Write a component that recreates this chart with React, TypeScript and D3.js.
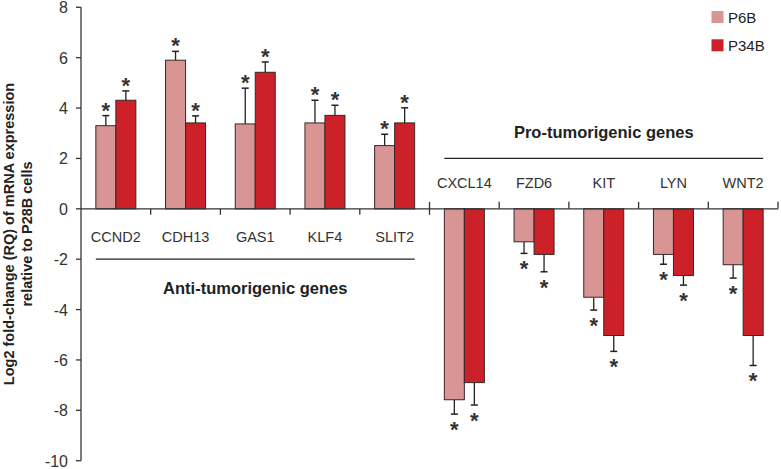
import React from "react";
import * as d3 from "d3";

// gene names, in the order drawn
const genes = ["CCND2", "CDH13", "GAS1", "KLF4", "SLIT2", "CXCL14", "FZD6", "KIT", "LYN", "WNT2"];
const series = ["P6B", "P34B"];
const colors = ["#d99594", "#cc2128"];

// log2 fold-change (RQ) and its one-sided error
const p6b = [3.3, 5.9, 3.37, 3.41, 2.51, -7.58, -1.31, -3.51, -1.81, -2.22];
const p6bErr = [0.4, 0.35, 1.42, 0.9, 0.45, 0.57, 0.46, 0.51, 0.39, 0.53];
const p34b = [4.31, 3.41, 5.42, 3.71, 3.41, -6.9, -1.81, -5.03, -2.65, -5.03];
const p34bErr = [0.37, 0.28, 0.41, 0.4, 0.6, 0.89, 0.69, 0.63, 0.38, 1.19];

const yTicks = [8, 6, 4, 2, 0, -2, -4, -6, -8, -10];

const groups = [
  { name: "Anti-tumorigenic genes", first: "CCND2", last: "SLIT2", lineAt: -2, below: true },
  { name: "Pro-tumorigenic genes", first: "CXCL14", last: "WNT2", lineAt: 2, below: false },
];

const W = 781;
const H = 469;
const FONT = "'Liberation Sans', Arial, sans-serif";

export default function App() {
  const y = d3.scaleLinear().domain([-10, 8]).range([460.7, 7.3]);
  const x = d3.scaleBand().domain(genes).range([81, 778]).padding(0);
  const bw = x.bandwidth();
  const barW = 20;
  const pOuter = (bw / barW - series.length) / 2;
  const xs = d3.scaleBand().domain(series).range([0, bw]).paddingInner(0).paddingOuter(pOuter);

  const values = [p6b, p34b];
  const errs = [p6bErr, p34bErr];
  const y0 = y(0);

  return (
    <svg width={W} height={H} style={{ position: "absolute", left: 0, top: 0, fontFamily: FONT }}>
      <rect width={W} height={H} fill="#fff" />

      {/* y axis */}
      <line x1={81} x2={81} y1={y(8)} y2={y(-10)} stroke="#333" strokeWidth={1.3} />
      {yTicks.map((t) => (
        <g key={t}>
          <line x1={76} x2={81} y1={y(t)} y2={y(t)} stroke="#333" strokeWidth={1.3} />
          <text x={68} y={y(t) + 6} textAnchor="end" fontSize={16} fill="#333">
            {t}
          </text>
        </g>
      ))}
      <text transform={`translate(14,${234}) rotate(-90)`} textAnchor="middle" fontSize={14.5} fontWeight="bold" fill="#222">
        Log2 fold-change (RQ) of mRNA expression
      </text>
      <text transform={`translate(31.5,${234}) rotate(-90)`} textAnchor="middle" fontSize={14.5} fontWeight="bold" fill="#222">
        relative to P28B cells
      </text>

      {/* bars */}
      {genes.map((g, i) =>
        series.map((s, k) => {
          const v = values[k][i];
          const e = errs[k][i];
          const bx = (x(g) as number) + (xs(s) as number);
          const cx = bx + xs.bandwidth() / 2;
          const top = Math.min(y(v), y0);
          const hgt = Math.abs(y(v) - y0);
          const capY = y(v >= 0 ? v + e : v - e);
          const starY = v >= 0 ? capY + 2 : capY + 23;
          return (
            <g key={g + s}>
              <line x1={cx} x2={cx} y1={y(v)} y2={capY} stroke="#222" strokeWidth={1.3} />
              <line x1={cx - 3.5} x2={cx + 3.5} y1={capY} y2={capY} stroke="#222" strokeWidth={1.5} />
              <rect x={bx} y={top} width={xs.bandwidth()} height={hgt} fill={colors[k]} stroke="#3a2626" strokeWidth={1} />
              <text x={cx} y={starY} textAnchor="middle" fontSize={22} fontWeight="bold" fill="#333">
                *
              </text>
            </g>
          );
        })
      )}

      {/* zero line with category ticks */}
      <line x1={81} x2={778} y1={y0} y2={y0} stroke="#333" strokeWidth={1.3} />
      {genes.map((g, i) => {
        const xr = (x(g) as number) + bw;
        const pos = p6b[i] >= 0;
        const nextPos = i + 1 < genes.length ? p6b[i + 1] >= 0 : pos;
        const down = pos || nextPos;
        const up = !pos || !nextPos;
        return (
          <line key={g} x1={xr} x2={xr} y1={up ? y0 - 7 : y0} y2={down ? y0 + 6 : y0} stroke="#333" strokeWidth={1.3} />
        );
      })}
      {genes.map((g, i) => (
        <text
          key={g}
          x={(x(g) as number) + bw / 2}
          y={p6b[i] >= 0 ? y0 + 33 : y0 - 21}
          textAnchor="middle"
          fontSize={14.5}
          fill="#333"
        >
          {g}
        </text>
      ))}

      {/* group brackets */}
      {groups.map((gr) => {
        const x1 = (x(gr.first) as number) + (xs(series[0]) as number);
        const x2 = (x(gr.last) as number) + (xs(series[1]) as number) + xs.bandwidth();
        const ly = y(gr.lineAt);
        return (
          <g key={gr.name}>
            <line x1={x1} x2={x2} y1={ly} y2={ly} stroke="#222" strokeWidth={1.3} />
            <text x={(x1 + x2) / 2} y={gr.below ? ly + 35 : ly - 20} textAnchor="middle" fontSize={16.5} fontWeight="bold" fill="#222">
              {gr.name}
            </text>
          </g>
        );
      })}

      {/* legend */}
      {series.map((s, k) => (
        <g key={s} transform={`translate(711.5,${11 + k * 28.3})`}>
          <rect width={12} height={12} fill={colors[k]} />
          <text x={16.5} y={11.5} fontSize={15} fill="#222">
            {s}
          </text>
        </g>
      ))}
    </svg>
  );
}
